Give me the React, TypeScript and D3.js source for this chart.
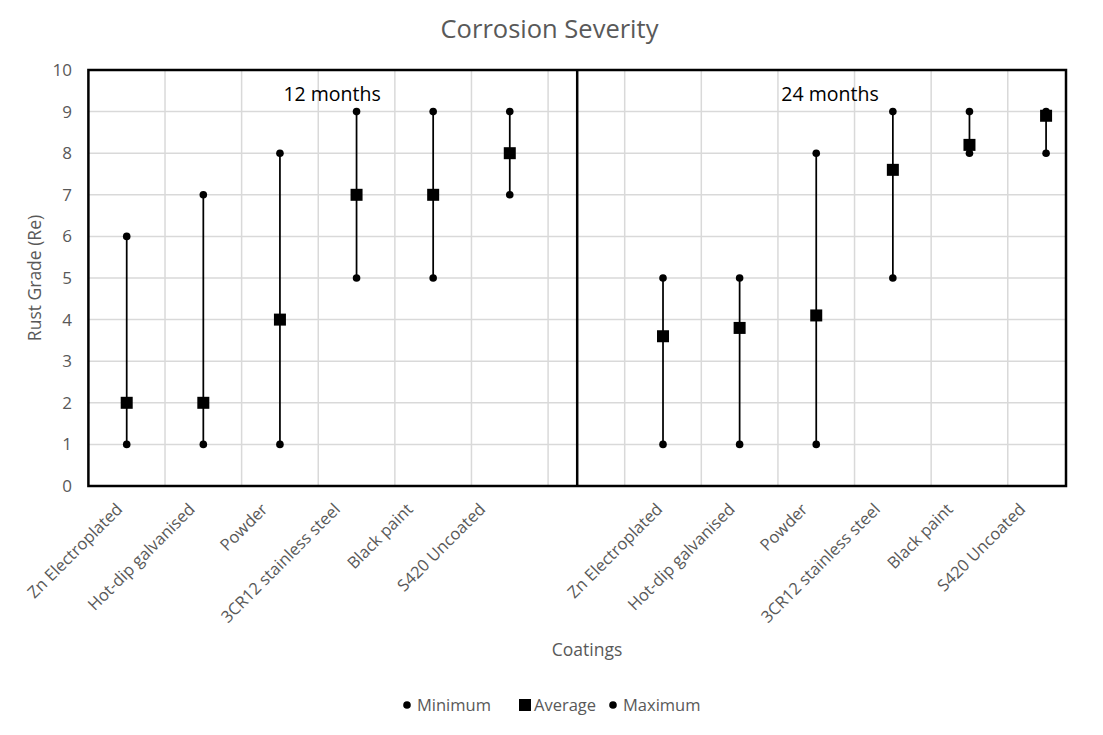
import React, { useRef, useEffect } from "react";
import * as d3 from "d3";

// coatings shown in each panel
const coatings = ["Zn Electroplated", "Hot-dip galvanised", "Powder", "3CR12 stainless steel", "Black paint", "S420 Uncoated"];
const panels = ["12 months", "24 months"];

// rust grade values (Re)
const min12 = [1, 1, 1, 5, 5, 7];
const avg12 = [2, 2, 4, 7, 7, 8];
const max12 = [6, 7, 8, 9, 9, 9];
const min24 = [1, 1, 1, 5, 8, 8];
const avg24 = [3.6, 3.8, 4.1, 7.6, 8.2, 8.9];
const max24 = [5, 5, 8, 9, 9, 9];

const yTicks = [0, 1, 2, 3, 4, 5, 6, 7, 8, 9, 10];
const legendItems = ["Minimum", "Average", "Maximum"];

const FONT = "'Open Sans', sans-serif";
const GREY = "#595959";

const CorrosionChart = ({ width, height }) => {
  const svgRef = useRef(null);

  useEffect(() => {
    const svg = d3.select(svgRef.current);
    svg.selectAll("*").remove();

    const left = 88.4;
    const right = 1066;
    const top = 70;
    const bottom = 486;

    // x in "slot" units, 12 months at 0..6, 24 months at 7..13
    const xScale = d3.scaleLinear().domain([0, 12.76]).range([left, right]);
    const yScale = d3.scaleLinear().domain([0, 10]).range([bottom, top]);

    // label axis is spaced a bit tighter than the points
    const labelScales = [
      d3.scaleBand().domain(coatings).range([83.7, 519.3]),
      d3.scaleBand().domain(coatings).range([623.7, 1059.3]),
    ];

    const series = [
      { offset: 0.5, min: min12, avg: avg12, max: max12 },
      { offset: 7.5, min: min24, avg: avg24, max: max24 },
    ];

    // gridlines
    const grid = svg.append("g");
    grid
      .selectAll(".hgrid")
      .data(yTicks.slice(1))
      .join("line")
      .attr("x1", left)
      .attr("x2", right)
      .attr("y1", (d) => yScale(d))
      .attr("y2", (d) => yScale(d))
      .attr("stroke", "#d9d9d9")
      .attr("stroke-width", 1.5);
    grid
      .selectAll(".vgrid")
      .data(d3.range(1, 13))
      .join("line")
      .attr("x1", (d) => xScale(d))
      .attr("x2", (d) => xScale(d))
      .attr("y1", top)
      .attr("y2", bottom)
      .attr("stroke", "#d9d9d9")
      .attr("stroke-width", 1.5);

    // plot border + panel divider
    svg
      .append("rect")
      .attr("x", left)
      .attr("y", top)
      .attr("width", right - left)
      .attr("height", bottom - top)
      .attr("fill", "none")
      .attr("stroke", "black")
      .attr("stroke-width", 2.5);
    svg
      .append("line")
      .attr("x1", xScale(6.38))
      .attr("x2", xScale(6.38))
      .attr("y1", top)
      .attr("y2", bottom)
      .attr("stroke", "black")
      .attr("stroke-width", 2.5);

    // panel labels
    svg
      .selectAll(".panel")
      .data(panels)
      .join("text")
      .attr("x", (d, i) => xScale(i === 0 ? 3.18 : 9.68))
      .attr("y", 101)
      .attr("text-anchor", "middle")
      .style("font-family", FONT)
      .style("font-size", "19.5px")
      .style("fill", "black")
      .text((d) => d);

    series.forEach((s) => {
      const g = svg.append("g");
      const px = (i) => xScale(i + s.offset);

      g.selectAll("line")
        .data(coatings)
        .join("line")
        .attr("x1", (d, i) => px(i))
        .attr("x2", (d, i) => px(i))
        .attr("y1", (d, i) => yScale(s.min[i]))
        .attr("y2", (d, i) => yScale(s.max[i]))
        .attr("stroke", "black")
        .attr("stroke-width", 1.75);

      g.selectAll(".min")
        .data(s.min)
        .join("circle")
        .attr("cx", (d, i) => px(i))
        .attr("cy", (d) => yScale(d))
        .attr("r", 3.8)
        .attr("fill", "black");

      g.selectAll(".max")
        .data(s.max)
        .join("circle")
        .attr("cx", (d, i) => px(i))
        .attr("cy", (d) => yScale(d))
        .attr("r", 3.8)
        .attr("fill", "black");

      g.selectAll("rect")
        .data(s.avg)
        .join("rect")
        .attr("x", (d, i) => px(i) - 6)
        .attr("y", (d) => yScale(d) - 6)
        .attr("width", 12)
        .attr("height", 12)
        .attr("fill", "black");
    });

    // y tick labels
    svg
      .append("g")
      .selectAll("text")
      .data(yTicks)
      .join("text")
      .attr("x", 72)
      .attr("y", (d) => yScale(d))
      .attr("dy", "0.35em")
      .attr("text-anchor", "end")
      .style("font-family", FONT)
      .style("font-size", "17px")
      .style("fill", GREY)
      .text((d) => d);

    // rotated category labels
    labelScales.forEach((ls) => {
      svg
        .append("g")
        .selectAll("text")
        .data(coatings)
        .join("text")
        .attr("transform", (d) => `translate(${ls(d) + ls.bandwidth() / 2 - 5}, 502) rotate(-45)`)
        .attr("dy", "0.72em")
        .attr("text-anchor", "end")
        .style("font-family", FONT)
        .style("font-size", "16.5px")
        .style("fill", GREY)
        .text((d) => d);
    });

    // title
    svg
      .append("text")
      .attr("x", 549.5)
      .attr("y", 38)
      .attr("text-anchor", "middle")
      .style("font-family", FONT)
      .style("font-size", "25.5px")
      .style("fill", GREY)
      .text("Corrosion Severity");

    // x axis title
    svg
      .append("text")
      .attr("x", 587)
      .attr("y", 656)
      .attr("text-anchor", "middle")
      .style("font-family", FONT)
      .style("font-size", "17.5px")
      .style("fill", GREY)
      .text("Coatings");

    // y axis title
    svg
      .append("text")
      .attr("transform", `translate(41, ${(top + bottom) / 2}) rotate(-90)`)
      .attr("text-anchor", "middle")
      .style("font-family", FONT)
      .style("font-size", "17.5px")
      .style("fill", GREY)
      .text("Rust Grade (Re)");

    // legend
    const legend = svg.append("g").attr("transform", "translate(0, 705)");
    const legendX = [407, 525, 613];
    legendItems.forEach((name, i) => {
      if (name === "Average") {
        legend
          .append("rect")
          .attr("x", legendX[i] - 6)
          .attr("y", -6)
          .attr("width", 12)
          .attr("height", 12)
          .attr("fill", "black");
      } else {
        legend.append("circle").attr("cx", legendX[i]).attr("cy", 0).attr("r", 3.8).attr("fill", "black");
      }
      legend
        .append("text")
        .attr("x", legendX[i] + (name === "Average" ? 9 : 10))
        .attr("y", 0)
        .attr("dy", "0.35em")
        .style("font-family", FONT)
        .style("font-size", "16.5px")
        .style("fill", GREY)
        .text(name);
    });
  }, [width, height]);

  return <svg ref={svgRef} width={width} height={height} style={{ position: "absolute", left: 0, top: 0, background: "white" }} />;
};

export default function App() {
  return <CorrosionChart width={1103} height={735} />;
}
